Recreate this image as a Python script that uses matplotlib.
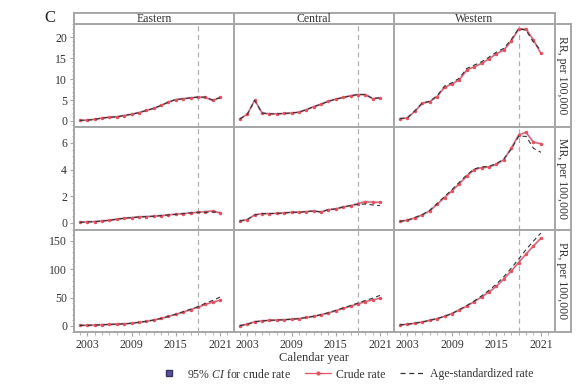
import matplotlib
matplotlib.use("Agg")
import matplotlib.pyplot as plt
from matplotlib.lines import Line2D
from matplotlib.ticker import MultipleLocator, FixedLocator

plt.rcParams['font.family'] = ['Liberation Serif', 'DejaVu Serif']
plt.rcParams['mathtext.fontset'] = 'custom'
plt.rcParams['mathtext.it'] = 'Liberation Serif:italic'
plt.rcParams['mathtext.rm'] = 'Liberation Serif'

years = list(range(2002, 2022))
regions = ["Eastern", "Central", "Western"]
measures = ["RR, per 100,000", "MR, per 100,000", "PR, per 100,000"]

# RR crude / age-standardized
rr_crude_e = [0.15, 0.2, 0.4, 0.7, 0.9, 1.0, 1.3, 1.6, 2.0, 2.5, 3.0, 3.7, 4.5, 5.1, 5.3, 5.5, 5.7, 5.6, 4.9, 5.6]
rr_std_e   = [0.15, 0.2, 0.4, 0.7, 0.9, 1.0, 1.3, 1.6, 2.0, 2.5, 3.0, 3.7, 4.5, 5.1, 5.3, 5.5, 5.7, 5.7, 5.0, 5.5]
rr_crude_c = [0.5, 1.6, 5.0, 1.9, 1.7, 1.7, 1.8, 1.9, 2.1, 2.7, 3.4, 4.0, 4.7, 5.2, 5.6, 6.0, 6.3, 6.3, 5.3, 5.5]
rr_std_c   = [0.5, 1.6, 4.9, 1.9, 1.7, 1.7, 1.8, 1.9, 2.1, 2.7, 3.4, 4.0, 4.7, 5.2, 5.6, 6.0, 6.3, 6.3, 5.4, 5.5]
rr_crude_w = [0.55, 0.7, 2.3, 4.2, 4.6, 5.8, 8.0, 8.8, 9.8, 12.1, 12.9, 13.7, 14.8, 16.0, 16.9, 19.0, 21.9, 21.9, 19.3, 16.1]
rr_std_w   = [0.55, 0.8, 2.4, 4.3, 4.7, 6.0, 8.3, 9.1, 10.2, 12.5, 13.3, 14.1, 15.2, 16.4, 17.3, 19.4, 22.0, 21.6, 18.8, 16.8]

# MR
mr_crude_e = [0.05, 0.08, 0.1, 0.15, 0.2, 0.28, 0.35, 0.4, 0.45, 0.48, 0.5, 0.55, 0.6, 0.65, 0.7, 0.75, 0.8, 0.85, 0.9, 0.75]
mr_std_e   = [0.05, 0.08, 0.1, 0.15, 0.2, 0.28, 0.35, 0.4, 0.45, 0.48, 0.5, 0.55, 0.6, 0.65, 0.7, 0.75, 0.8, 0.8, 0.82, 0.8]
mr_crude_c = [0.15, 0.25, 0.6, 0.7, 0.7, 0.72, 0.75, 0.8, 0.8, 0.85, 0.9, 0.82, 1.0, 1.05, 1.2, 1.3, 1.45, 1.6, 1.55, 1.55]
mr_std_c   = [0.15, 0.25, 0.6, 0.7, 0.7, 0.72, 0.75, 0.8, 0.8, 0.85, 0.9, 0.82, 1.0, 1.05, 1.2, 1.3, 1.4, 1.42, 1.35, 1.3]
mr_crude_w = [0.12, 0.2, 0.38, 0.6, 0.9, 1.4, 1.9, 2.4, 2.95, 3.5, 4.0, 4.15, 4.2, 4.4, 4.75, 5.6, 6.6, 6.8, 6.05, 5.95]
mr_std_w   = [0.12, 0.2, 0.4, 0.62, 0.95, 1.45, 1.98, 2.5, 3.05, 3.6, 4.05, 4.2, 4.25, 4.45, 4.8, 5.55, 6.5, 6.5, 5.6, 5.3]

# PR
pr_crude_e = [1, 1.3, 1.7, 2.2, 2.8, 3.3, 3.8, 4.8, 6.5, 8.2, 10.5, 13.3, 16.8, 20.5, 24.5, 28.7, 33, 38, 42, 45.5]
pr_std_e   = [1, 1.3, 1.7, 2.2, 2.8, 3.3, 3.8, 4.8, 6.5, 8.2, 10.5, 13.3, 16.8, 20.8, 25, 29.5, 34, 40, 45, 51]
pr_crude_c = [0.8, 3, 7.5, 9, 10, 10.5, 11, 12, 13, 15, 17, 20, 23, 27, 31, 35, 39, 43, 46, 49]
pr_std_c   = [0.8, 3, 7.5, 9, 10, 10.5, 11, 12, 13, 15, 17, 20, 23.3, 27.5, 31.8, 36, 40.5, 45, 49, 54]
pr_crude_w = [2, 3, 5, 7, 10, 13, 17, 22, 28, 35, 43, 51, 60, 70, 83, 97, 112, 127, 141, 155]
pr_std_w   = [2, 3, 5, 7, 10, 13, 17, 22, 29, 36, 44, 53, 63, 74, 87, 102, 118, 135, 150, 164]

crude = [[rr_crude_e, rr_crude_c, rr_crude_w],
         [mr_crude_e, mr_crude_c, mr_crude_w],
         [pr_crude_e, pr_crude_c, pr_crude_w]]
std = [[rr_std_e, rr_std_c, rr_std_w],
       [mr_std_e, mr_std_c, mr_std_w],
       [pr_std_e, pr_std_c, pr_std_w]]

ref_year = 2018
xticks = [2003, 2009, 2015, 2021]
ylims = [(-1.43, 23.1), (-0.53, 7.2), (-10.6, 169.4)]
yticks = [[0, 5, 10, 15, 20], [0, 2, 4, 6], [0, 50, 100, 150]]
yminor = [1, 0.5, 10]

W, H = 586, 385
fig = plt.figure(figsize=(W / 100, H / 100), dpi=100)

col_x = [74, 234, 394, 555]
row_y = [24, 127, 230, 332]
border = '#a6a6a6'
red = '#e8515c'
ci_col = '#5a4f9a'
fs = 8.5

def fx(px):
    return px / W

def fy(py):
    return 1 - py / H

for r in range(3):
    for c in range(3):
        ax = fig.add_axes([fx(col_x[c]), fy(row_y[r + 1]),
                           fx(col_x[c + 1] - col_x[c]), (row_y[r + 1] - row_y[r]) / H])
        ax.set_xlim(2001.19, 2022.9)
        ax.set_ylim(*ylims[r])
        ax.axvline(ref_year, color='#b0b0b0', lw=0.9, ls=(0, (4, 3)), zorder=1)
        ax.plot(years, crude[r][c], color=ci_col, lw=1.7, alpha=0.3, zorder=2,
                solid_capstyle='round')
        ax.plot(years, crude[r][c], color=red, lw=0.8, marker='o', ms=1.5,
                zorder=3)
        ax.plot(years, std[r][c], color='#333333', lw=0.8, ls=(0, (4, 3)), zorder=4)
        for s in ax.spines.values():
            s.set_color(border)
            s.set_linewidth(1.4)
        ax.xaxis.set_major_locator(FixedLocator(xticks))
        ax.xaxis.set_minor_locator(MultipleLocator(1))
        ax.yaxis.set_major_locator(FixedLocator(yticks[r]))
        ax.yaxis.set_minor_locator(MultipleLocator(yminor[r]))
        ax.tick_params(which='both', colors=border, labelcolor='#333333',
                       labelsize=fs, direction='out')
        ax.tick_params(which='major', length=3, width=0.8)
        ax.tick_params(which='minor', length=1.8, width=0.6)
        if c != 0:
            ax.tick_params(axis='y', which='both', left=False, labelleft=False)
        if r != 2:
            ax.tick_params(axis='x', which='both', bottom=False, labelbottom=False)
        else:
            ax.tick_params(axis='x', pad=2)
        ax.tick_params(axis='y', pad=2)

# top strips
for c in range(3):
    sax = fig.add_axes([fx(col_x[c]), fy(row_y[0]), fx(col_x[c + 1] - col_x[c]), 11 / H])
    sax.set_xticks([]); sax.set_yticks([])
    for s in sax.spines.values():
        s.set_color(border); s.set_linewidth(1.4)
    sax.text(0.5, 0.45, regions[c], ha='center', va='center', fontsize=fs,
             color='#333333', transform=sax.transAxes)

# right strips
for r in range(3):
    sax = fig.add_axes([fx(555), fy(row_y[r + 1]), fx(16), (row_y[r + 1] - row_y[r]) / H])
    sax.set_xticks([]); sax.set_yticks([])
    for s in sax.spines.values():
        s.set_color(border); s.set_linewidth(1.4)
    sax.text(0.42, 0.5, measures[r], ha='center', va='center', fontsize=fs,
             rotation=270, color='#333333', transform=sax.transAxes)

fig.text(fx(50), fy(18), 'C', fontsize=12, ha='center', va='center', color='#222222')
fig.text(fx(314), fy(358), 'Calendar year', fontsize=fs + 0.5, ha='center',
         va='center', color='#333333')

handles = [
    Line2D([], [], ls='none', marker='s', ms=4.5, color=ci_col, markeredgecolor='#333366'),
    Line2D([], [], color=red, lw=0.9, marker='o', ms=2),
    Line2D([], [], color='#333333', lw=0.9, ls=(0, (4, 3))),
]
labels = ['95% $\\mathit{CI}$ for crude rate', 'Crude rate', 'Age-standardized rate']
leg = fig.legend(handles, labels, loc='center', bbox_to_anchor=(fx(345), fy(374)),
                 ncol=3, frameon=False, fontsize=fs, handlelength=2.2,
                 handletextpad=0.4, columnspacing=1.2, borderaxespad=0)
for t in leg.get_texts():
    t.set_color('#333333')

fig.savefig('out.png', dpi=100)
